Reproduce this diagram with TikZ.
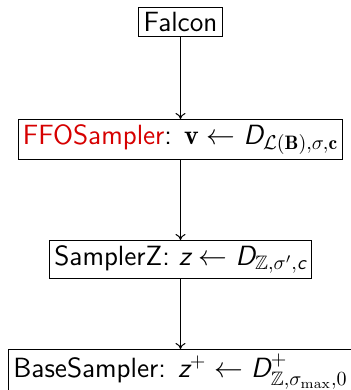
\documentclass[tikz,border=0pt]{standalone}
\usepackage{amsmath,amssymb}
\usepackage{fontspec}
\usetikzlibrary{arrows.meta}
% italic sans letters inside math, beamer style
\newcommand\sfit[1]{\text{\sffamily\itshape #1}}
\definecolor{alertred}{RGB}{214,0,0}
\begin{document}
\begin{tikzpicture}[x=0.5pt,y=-0.5pt,
  levelbox/.style={draw,line width=0.5pt,inner sep=2.4pt,
    font=\fontsize{13.9}{16}\selectfont\sffamily},
  flow/.style={line width=0.5pt,-{To[length=3pt,width=5pt]}}]
\useasboundingbox (0,0) rectangle (351,390);
\node[levelbox,anchor=north] (falcon) at (180.5,7) {Falcon};
\node[levelbox,anchor=north] (ffo) at (180.5,119)
  {\textcolor{alertred}{FFOSampler}: $\mathbf{v}\leftarrow \sfit{D}_{\mathcal{L}(\mathbf{B}),\sigma,\mathbf{c}}$};
\node[levelbox,anchor=north] (sz) at (180.5,240)
  {SamplerZ: $\sfit{z}\leftarrow \sfit{D}_{\mathbb{Z},\sigma',\sfit{c}}$};
\node[levelbox,anchor=north] (base) at (180.5,349)
  {BaseSampler: $\sfit{z}^{+}\leftarrow \sfit{D}^{+}_{\mathbb{Z},\sigma_{\max},0}$};
\draw[flow] (falcon) -- (ffo);
\draw[flow] (ffo) -- (sz);
\draw[flow] (sz) -- (base);
\end{tikzpicture}
\end{document}
